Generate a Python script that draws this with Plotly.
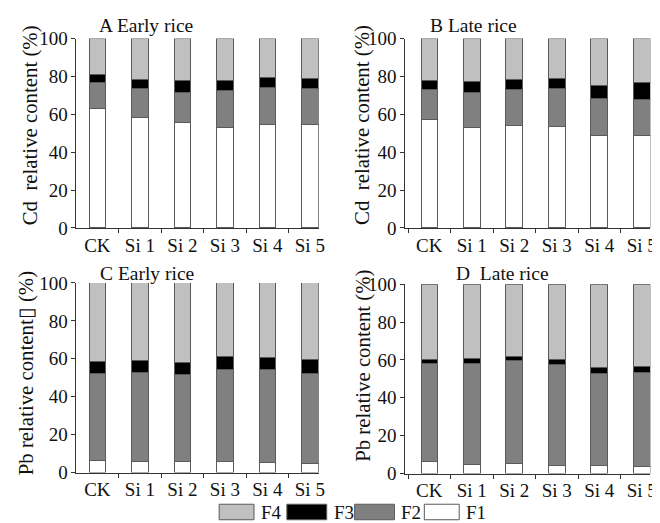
import plotly.graph_objects as go

categories = ["CK", "Si 1", "Si 2", "Si 3", "Si 4", "Si 5"]
fractions = ["F1", "F2", "F3", "F4"]
colors = {"F1": "#ffffff", "F2": "#808080", "F3": "#000000", "F4": "#c0c0c0"}

# Panel A: Cd, early rice
a_F1 = [63.0, 58.6, 55.5, 53.3, 54.9, 54.4]
a_F2 = [13.6, 15.2, 16.2, 19.1, 19.2, 19.0]
a_F3 = [4.6, 4.7, 6.3, 5.4, 5.3, 5.6]
a_F4 = [18.8, 21.5, 22.0, 22.2, 20.6, 21.0]
# Panel B: Cd, late rice
b_F1 = [57.2, 53.3, 53.9, 53.7, 48.8, 49.1]
b_F2 = [15.9, 18.4, 19.3, 19.9, 19.7, 19.0]
b_F3 = [4.9, 5.8, 5.3, 5.6, 6.7, 8.8]
b_F4 = [22.0, 22.5, 21.5, 20.8, 24.8, 23.1]
# Panel C: Pb, early rice
c_F1 = [6.5, 6.0, 5.8, 5.8, 5.3, 4.7]
c_F2 = [45.7, 46.9, 45.9, 48.3, 48.8, 47.7]
c_F3 = [6.5, 6.3, 6.5, 7.2, 6.5, 7.2]
c_F4 = [41.3, 40.8, 41.8, 38.7, 39.4, 40.4]
# Panel D: Pb, late rice
d_F1 = [6.5, 4.6, 5.1, 4.2, 4.2, 3.9]
d_F2 = [51.4, 53.5, 54.8, 53.4, 48.8, 49.3]
d_F3 = [2.5, 2.5, 1.7, 2.4, 3.2, 3.3]
d_F4 = [39.6, 39.4, 38.4, 40.0, 43.8, 43.5]

panel_titles = ["A Early rice", "B Late rice", "C Early rice", "D\u00a0 Late rice"]
y_titles = ["Cd\u00a0 relative content (%)", "Cd\u00a0 relative content (%)",
            "Pb relative content\u25af (%)", "Pb relative content (%)"]
y_ticks = [0, 20, 40, 60, 80, 100]

W, H = 660, 523
OFF = 8                      # default page body margin
SX, AY, SY = 0.995, 10.0, 0.96   # observed mapping from page pixels to photo pixels

def fxp(x):                  # target photo x -> figure pixel x
    return x / SX - OFF
def fyp(y):                  # target photo y -> figure pixel y
    return (y - AY) / SY - OFF
def px(x):
    return min(max(fxp(x) / W, 0), 1)
def py(y, lo=0.0):
    return min(max(1 - max(fyp(y), lo) / H, 0), 1)

SPACING = 42.67 / SX
panels = [
    {"data": [a_F1, a_F2, a_F3, a_F4], "xd": (76.7, 320.0), "c0": 97.7, "yd": (38.3, 227.7),
     "title": (147, 17), "ytitle": (30, 125)},
    {"data": [b_F1, b_F2, b_F3, b_F4], "xd": (407.0, 653.0), "c0": 431.0, "yd": (38.3, 227.7),
     "title": (475, 22), "ytitle": (364, 125)},
    {"data": [c_F1, c_F2, c_F3, c_F4], "xd": (76.7, 320.0), "c0": 97.7, "yd": (282.7, 472.3),
     "title": (148, 273), "ytitle": (26, 373)},
    {"data": [d_F1, d_F2, d_F3, d_F4], "xd": (407.0, 653.0), "c0": 431.0, "yd": (284.0, 473.3),
     "title": (505, 273), "ytitle": (365, 366)},
]

FONT = "Liberation Serif, Times New Roman, serif"
fig = go.Figure()
layout = {}
annotations = []
for i, p in enumerate(panels):
    n = "" if i == 0 else str(i + 1)
    for f, vals in zip(fractions, p["data"]):
        fig.add_trace(go.Bar(
            x=categories, y=vals, name=f, showlegend=False,
            marker=dict(color=colors[f], line=dict(color="#5a5a5a", width=1)),
            xaxis="x" + n, yaxis="y" + n,
        ))
    d0, d1 = px(p["xd"][0]), px(p["xd"][1])
    c0 = fxp(p["c0"])
    xr = [(d0 * W - c0) / SPACING, (d1 * W - c0) / SPACING]
    layout["xaxis" + n] = dict(
        domain=[d0, d1], anchor="y" + n,
        range=xr, type="category", tickson="boundaries",
        ticks="outside", ticklen=4, tickcolor="#333", showline=True, linecolor="#333",
        linewidth=1, showgrid=False, zeroline=False,
        tickfont=dict(family=FONT, size=19, color="#111"),
    )
    layout["yaxis" + n] = dict(
        domain=[py(p["yd"][1]), py(p["yd"][0])], anchor="x" + n,
        range=[0, 100], tickvals=y_ticks, ticks="outside", ticklen=4, tickcolor="#333",
        showline=True, linecolor="#333", linewidth=1, showgrid=False, zeroline=False,
        tickfont=dict(family=FONT, size=19, color="#111"),
    )
    annotations.append(dict(
        text=panel_titles[i], x=px(p["title"][0]), y=py(p["title"][1], lo=8),
        xref="paper", yref="paper", showarrow=False, xanchor="center", yanchor="middle",
        font=dict(family=FONT, size=19.5, color="#111"),
    ))
    annotations.append(dict(
        text=y_titles[i], x=px(p["ytitle"][0]), y=py(p["ytitle"][1]),
        xref="paper", yref="paper", showarrow=False, xanchor="center", yanchor="middle",
        textangle=-90, font=dict(family=FONT, size=20.8, color="#111"),
    ))

# manual legend with wide swatches
legend_items = [("F4", 220, 255), ("F3", 288, 328), ("F2", 356, 396), ("F1", 426, 461)]
shapes = []
for name, x0, x1 in legend_items:
    shapes.append(dict(type="rect", xref="paper", yref="paper",
                       x0=px(x0), x1=px(x1), y0=py(519.5), y1=py(504),
                       fillcolor=colors[name], line=dict(color="#5a5a5a", width=1)))
    annotations.append(dict(text=name, x=px(x1 + 5), y=py(512), xref="paper", yref="paper",
                            showarrow=False, xanchor="left", yanchor="middle",
                            font=dict(family=FONT, size=19, color="#111")))

fig.update_layout(
    width=W, height=H, margin=dict(l=0, r=0, t=0, b=0),
    paper_bgcolor="white", plot_bgcolor="white",
    barmode="stack", bargap=0.61, showlegend=False,
    annotations=annotations, shapes=shapes,
    **layout,
)
fig.write_html(
    "out.html",
    post_script="document.documentElement.style.overflow='hidden';document.body.style.overflow='hidden';",
)
